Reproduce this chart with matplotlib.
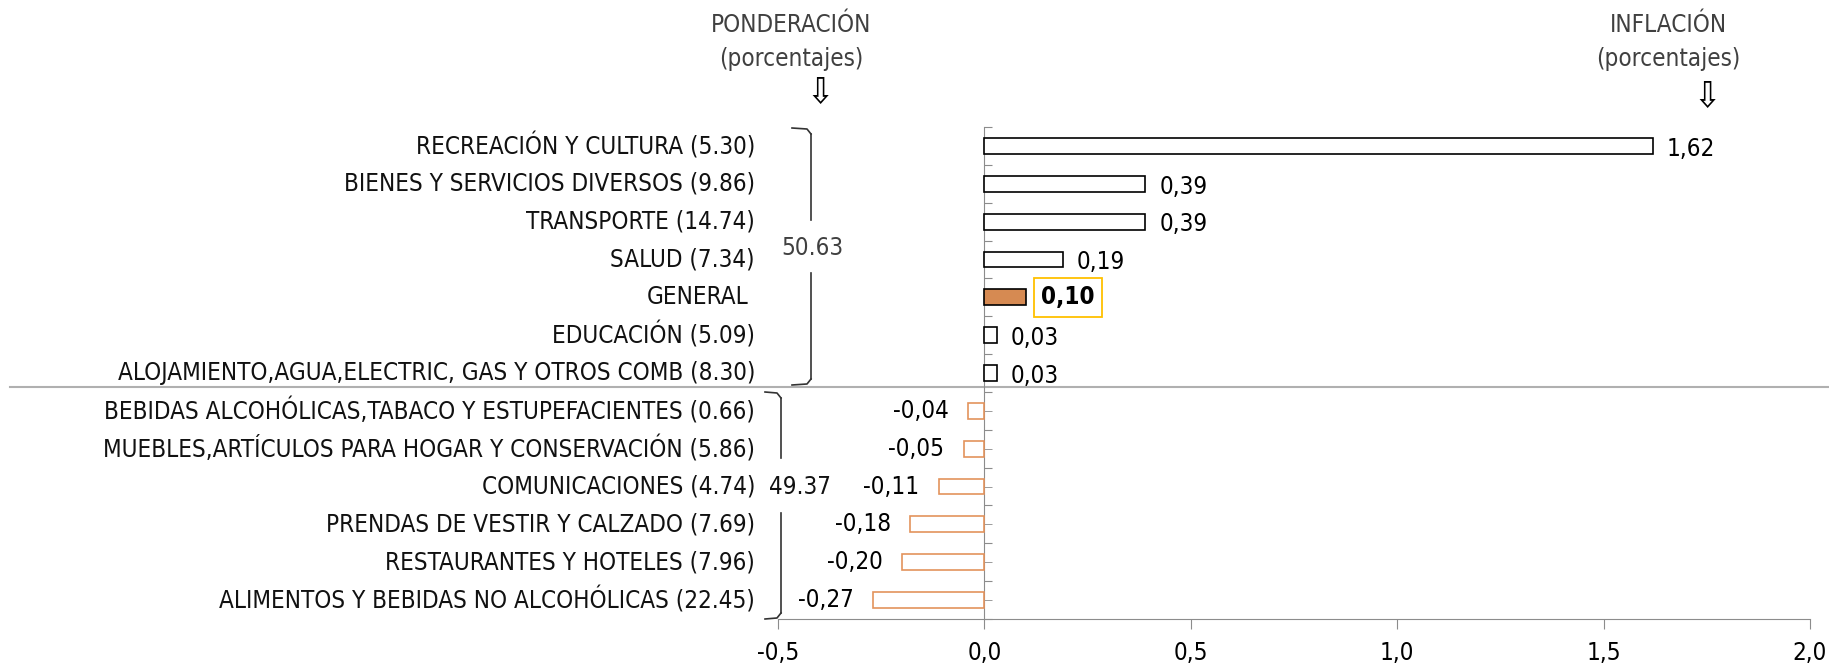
import matplotlib.pyplot as plt
import matplotlib.transforms as mtransforms
from matplotlib import font_manager
import numpy as np

categories = [
    'RECREACIÓN Y CULTURA (5.30)',
    'BIENES Y SERVICIOS DIVERSOS (9.86)',
    'TRANSPORTE (14.74)',
    'SALUD (7.34)',
    'GENERAL',
    'EDUCACIÓN (5.09)',
    'ALOJAMIENTO,AGUA,ELECTRIC, GAS Y OTROS COMB (8.30)',
    'BEBIDAS ALCOHÓLICAS,TABACO Y ESTUPEFACIENTES (0.66)',
    'MUEBLES,ARTÍCULOS PARA HOGAR Y CONSERVACIÓN (5.86)',
    'COMUNICACIONES (4.74)',
    'PRENDAS DE VESTIR Y CALZADO (7.69)',
    'RESTAURANTES Y HOTELES (7.96)',
    'ALIMENTOS Y BEBIDAS NO ALCOHÓLICAS (22.45)',
]
inflation = [1.62, 0.39, 0.39, 0.19, 0.10, 0.03, 0.03,
             -0.04, -0.05, -0.11, -0.18, -0.20, -0.27]
group_totals = ['50.63', '49.37']
xticks = [-0.5, 0.0, 0.5, 1.0, 1.5, 2.0]

# the original uses Arial Narrow; take a narrow face if one is installed
fonts = font_manager.fontManager.ttflist
names = {f.name for f in fonts}
stretch = 'normal'
if 'Liberation Sans Narrow' in names:
    fam, k = 'Liberation Sans Narrow', 1.0
elif 'Arial Narrow' in names:
    fam, k = 'Arial Narrow', 1.0
elif any(f.name == 'DejaVu Sans' and f.stretch in ('condensed', 'semi-condensed') for f in fonts):
    fam, k, stretch = 'DejaVu Sans', 0.94, 'condensed'
else:
    fam, k = 'Liberation Sans', 0.86
plt.rcParams['font.family'] = [fam, 'Liberation Sans', 'DejaVu Sans']
plt.rcParams['font.stretch'] = stretch

LBL = 18.5 * k
VAL = 18.5 * k
HDR = 18.5 * k

W, H = 1829, 666
fig = plt.figure(figsize=(W / 100, H / 100), dpi=100)
ax = fig.add_axes([778 / W, 1 - 619 / H, (1810 - 778) / W, (619 - 127) / H])

y = np.arange(len(categories))
orange = '#E3935C'
for yi, v, name in zip(y, inflation, categories):
    if name == 'GENERAL':
        fc, ec = '#D68A52', 'black'
    elif v < 0:
        fc, ec = 'white', orange
    else:
        fc, ec = 'white', 'black'
    ax.barh(yi, v, height=0.42, color=fc, edgecolor=ec, linewidth=1.2, zorder=3)

ax.set_xlim(-0.5, 2.0)
ax.set_ylim(len(categories) - 0.5, -0.5)

# value labels
for yi, v, name in zip(y, inflation, categories):
    txt = ('%.2f' % v).replace('.', ',')
    if name == 'GENERAL':
        ax.annotate(txt, (v, yi), xytext=(11, 0), textcoords='offset points',
                    ha='left', va='center', fontsize=VAL, fontweight='bold',
                    bbox=dict(boxstyle='square,pad=0.3', fc='white', ec='#FFC000', lw=1.3))
    elif v >= 0:
        ax.annotate(txt, (v, yi), xytext=(10, -2), textcoords='offset points',
                    ha='left', va='center', fontsize=VAL)
    else:
        ax.annotate(txt, (v, yi), xytext=(-14, 0), textcoords='offset points',
                    ha='right', va='center', fontsize=VAL)

# category labels left of the axes
trans = mtransforms.blended_transform_factory(fig.transFigure, ax.transData)
for yi, name in zip(y, categories):
    xpos = 755 / W if name != 'GENERAL' else 748 / W
    ax.text(xpos, yi, name, transform=trans, ha='right', va='center',
            fontsize=LBL, color='#111111')

# spines / ticks
for s in ['top', 'right']:
    ax.spines[s].set_visible(False)
ax.spines['left'].set_position(('data', 0))
ax.spines['left'].set_color('#8c8c8c')
ax.spines['bottom'].set_color('#8c8c8c')
ax.set_xticks(xticks)
ax.set_xticklabels([('%.1f' % t).replace('.', ',') for t in xticks], fontsize=VAL)
ax.tick_params(axis='x', colors='#8c8c8c', labelcolor='black', length=7, pad=9)
ax.set_yticks(np.arange(-0.5, len(categories), 1.0))
ax.set_yticks(y, minor=True)
ax.set_yticklabels([])
ax.tick_params(axis='y', which='both', direction='in', length=6, colors='#8c8c8c')

# separator between groups
ax.plot([10 / W, 1.0], [6.38, 6.38], transform=trans, color='#b0b0b0',
        lw=1.5, clip_on=False, zorder=1)


# brackets for group weights
def bracket(x_line, x_hook, y_top, y_bot, gap, label, lx, ly, color):
    kw = dict(color='#333333', lw=1.2)
    for (a, b) in [(y_top + 6, gap[0]), (gap[1], y_bot - 6)]:
        fig.add_artist(plt.Line2D([x_line / W, x_line / W], [1 - a / H, 1 - b / H], **kw))
    fig.add_artist(plt.Line2D([x_hook / W, (x_line - 4) / W, x_line / W],
                              [1 - y_top / H, 1 - (y_top + 1) / H, 1 - (y_top + 6) / H], **kw))
    fig.add_artist(plt.Line2D([x_hook / W, (x_line - 4) / W, x_line / W],
                              [1 - y_bot / H, 1 - (y_bot - 1) / H, 1 - (y_bot - 6) / H], **kw))
    fig.text(lx / W, 1 - ly / H, label, ha='center', va='center', fontsize=LBL, color=color)


bracket(811, 792, 128, 385, (220, 273), group_totals[0], 812, 248, '#404040')
bracket(781, 765, 392, 619, (458, 513), group_totals[1], 800, 487, '#111111')

# headers
fig.text(791 / W, 1 - 25 / H, 'PONDERACIÓN', ha='center', va='center', fontsize=HDR, color='#404040')
fig.text(791 / W, 1 - 59 / H, '(porcentajes)', ha='center', va='center', fontsize=HDR, color='#404040')
fig.text(820 / W, 1 - 93 / H, '⇩', ha='center', va='center', fontsize=26,
         family='DejaVu Sans', color='black')
fig.text(1668 / W, 1 - 25 / H, 'INFLACIÓN', ha='center', va='center', fontsize=HDR, color='#404040')
fig.text(1668 / W, 1 - 59 / H, '(porcentajes)', ha='center', va='center', fontsize=HDR, color='#404040')
fig.text(1707 / W, 1 - 97 / H, '⇩', ha='center', va='center', fontsize=26,
         family='DejaVu Sans', color='black')

fig.savefig('out.png', dpi=100)
